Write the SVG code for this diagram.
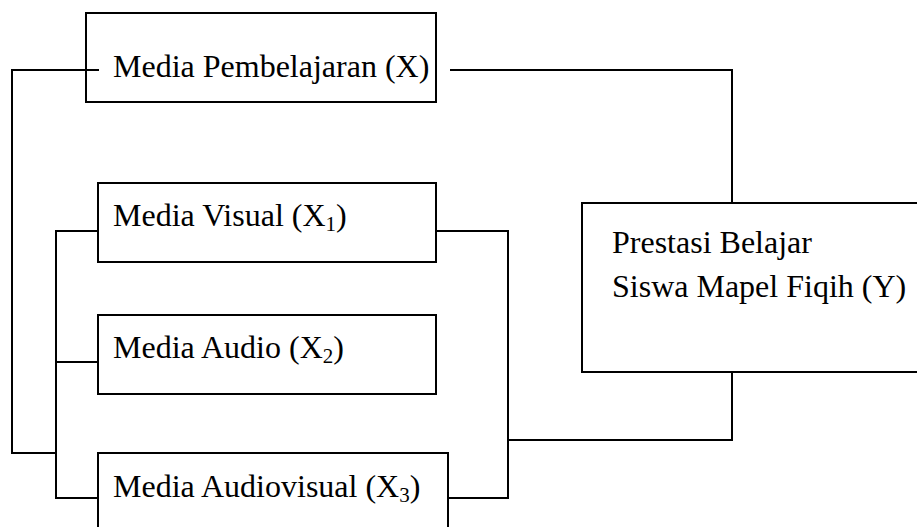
<svg xmlns="http://www.w3.org/2000/svg" width="917" height="527" viewBox="0 0 917 527">
<style>
.box{fill:none;stroke:#000;stroke-width:2}
.ln{fill:none;stroke:#000;stroke-width:2}
text{font-family:'Liberation Serif','Times New Roman',Times,serif;font-size:32px;fill:#000}
.s{font-size:21px}
</style>
<rect width="917" height="527" fill="#fff"/>
<g id="connectors">
<polyline class="ln" points="99,70 12,70 12,453 56,453"/>
<polyline class="ln" points="98,231 56,231 56,498 98,498"/>
<line class="ln" x1="56" y1="362" x2="98" y2="362"/>
<polyline class="ln" points="450,70 732,70 732,203"/>
<polyline class="ln" points="436,231 508,231 508,498 448,498"/>
<polyline class="ln" points="508,440 732,440 732,372"/>
</g>
<g id="nodeX">
<rect class="box" x="86" y="13" width="350" height="89"/>
<text x="113" y="77">Media Pembelajaran (X)</text>
</g>
<g id="nodeX1">
<rect class="box" x="98" y="183" width="338" height="79"/>
<text x="113" y="226">Media Visual (X<tspan class="s" dy="5">1</tspan><tspan dy="-5">)</tspan></text>
</g>
<g id="nodeX2">
<rect class="box" x="98" y="315" width="338" height="79"/>
<text x="113" y="358">Media Audio (X<tspan class="s" dy="5">2</tspan><tspan dy="-5">)</tspan></text>
</g>
<g id="nodeX3">
<rect class="box" x="98" y="453" width="350" height="100"/>
<text x="113" y="497">Media Audiovisual (X<tspan class="s" dy="5">3</tspan><tspan dy="-5">)</tspan></text>
</g>
<g id="nodeY">
<rect class="box" x="582" y="203" width="360" height="169"/>
<text x="612" y="253">Prestasi Belajar</text>
<text x="612" y="297">Siswa Mapel Fiqih (Y)</text>
</g>
</svg>
